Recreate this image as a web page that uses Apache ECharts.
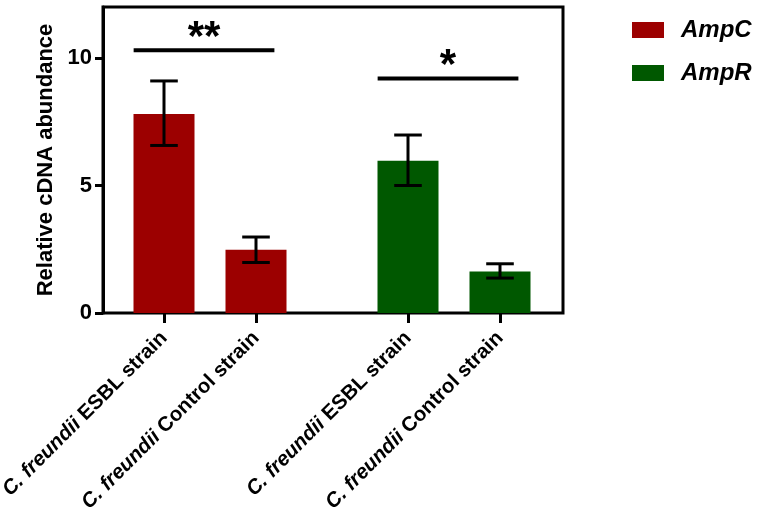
<!DOCTYPE html>
<html>
<head>
<meta charset="utf-8">
<script src="https://cdn.jsdelivr.net/npm/echarts@6/dist/echarts.min.js"></script>
<style>html,body{margin:0;padding:0;background:#fff}#c{width:762px;height:517px}</style>
</head>
<body>
<div id="c"></div>
<script>
// ---- data ----
const categories = ['ESBL strain', 'Control strain'];
const seriesNames = ['AmpC', 'AmpR'];
const ampCMean = [7.8, 2.48];
const ampCLow = [6.57, 1.98];
const ampCHigh = [9.1, 2.98];
const ampRMean = [5.97, 1.63];
const ampRLow = [5.0, 1.37];
const ampRHigh = [6.98, 1.93];
const yTicks = [0, 5, 10];
const yMax = 12;
const sigLabels = ['**', '*'];
const sigLevels = [10.3, 9.2];

const FONT = 'Liberation Sans';
const RED = '#9c0000';
const GREEN = '#005800';

const chart = echarts.init(document.getElementById('c'));

function errRender(params, api) {
  const x = api.value(0), lo = api.value(1), hi = api.value(2);
  const pLo = api.coord([x, lo]), pHi = api.coord([x, hi]);
  const hw = api.size([1, 0])[0] * 0.15;
  const st = { stroke: '#000', lineWidth: 3 };
  return {
    type: 'group',
    children: [
      { type: 'line', shape: { x1: pLo[0], y1: pLo[1], x2: pHi[0], y2: pHi[1] }, style: st },
      { type: 'line', shape: { x1: pLo[0] - hw, y1: pLo[1], x2: pLo[0] + hw, y2: pLo[1] }, style: st },
      { type: 'line', shape: { x1: pHi[0] - hw, y1: pHi[1], x2: pHi[0] + hw, y2: pHi[1] }, style: st }
    ]
  };
}

function sigRender(params, api) {
  const y = api.value(2);
  const p0 = api.coord([api.value(0), y]);
  const p1 = api.coord([api.value(1), y]);
  const bw = api.size([1, 0])[0];
  const xa = p0[0] - 0.33 * bw, xb = p1[0] + 0.2 * bw;
  return {
    type: 'group',
    children: [
      { type: 'line', shape: { x1: xa, y1: p0[1], x2: xb, y2: p0[1] }, style: { stroke: '#000', lineWidth: 4 } },
      { type: 'text', x: (xa + xb) / 2, y: p0[1] - 12,
        style: { text: api.value(3), fill: '#000',
                 font: 'bold 42px "' + FONT + '"', align: 'center', verticalAlign: 'middle' } }
    ]
  };
}

const richLabel = {
  i: { fontFamily: FONT, fontStyle: 'italic', fontWeight: 'bold', fontSize: 20.5, color: '#000' },
  n: { fontFamily: FONT, fontWeight: 'bold', fontSize: 20.5, color: '#000' }
};

function catAxis(gridIndex) {
  return {
    type: 'category', gridIndex: gridIndex, data: categories, boundaryGap: true,
    axisLine: { show: false },
    axisTick: { show: true, alignWithLabel: true, length: 10, lineStyle: { color: '#000', width: 3 } },
    axisLabel: {
      rotate: 45, margin: 22, interval: 0,
      formatter: function (v) { return '{i|C. freundii}{n| ' + v + '}'; },
      rich: richLabel
    },
    splitLine: { show: false }
  };
}
function hiddenY(gridIndex) {
  return { type: 'value', gridIndex: gridIndex, min: 0, max: yMax, show: false, splitLine: { show: false } };
}

const option = {
  backgroundColor: '#fff',
  animation: false,
  legend: {
    orient: 'vertical', left: 632, top: 18, padding: 0,
    itemWidth: 32, itemHeight: 16, itemGap: 19,
    icon: 'rect',
    data: seriesNames,
    textStyle: { fontFamily: FONT, fontStyle: 'italic', fontWeight: 'bold', fontSize: 24, color: '#000', padding: [0, 0, 0, 12] }
  },
  grid: [
    { left: 103, top: 7, width: 460, height: 306, show: true, borderColor: '#000', borderWidth: 3, backgroundColor: 'transparent', outerBoundsMode: 'none', containLabel: false },
    { left: 118, top: 7, width: 184, height: 306, outerBoundsMode: 'none', containLabel: false },
    { left: 362, top: 7, width: 184, height: 306, outerBoundsMode: 'none', containLabel: false }
  ],
  xAxis: [
    { type: 'value', gridIndex: 0, show: false, min: 0, max: 1, splitLine: { show: false } },
    catAxis(1),
    catAxis(2)
  ],
  yAxis: [
    {
      type: 'value', gridIndex: 0, min: 0, max: yMax, interval: 5,
      name: 'Relative cDNA abundance', nameLocation: 'middle', nameGap: 46,
      nameTextStyle: { fontFamily: FONT, fontWeight: 'bold', fontSize: 22, color: '#000' },
      axisLine: { show: true, lineStyle: { color: '#000', width: 3 } },
      axisTick: { show: true, length: 8, lineStyle: { color: '#000', width: 3 }, customValues: yTicks },
      axisLabel: { fontFamily: FONT, fontWeight: 'bold', fontSize: 22, color: '#000', margin: 11, customValues: yTicks },
      splitLine: { show: false }
    },
    hiddenY(1),
    hiddenY(2)
  ],
  series: [
    { name: 'AmpC', type: 'bar', xAxisIndex: 1, yAxisIndex: 1, data: ampCMean, barWidth: 61, itemStyle: { color: RED }, clip: false },
    { name: 'AmpR', type: 'bar', xAxisIndex: 2, yAxisIndex: 2, data: ampRMean, barWidth: 61, itemStyle: { color: GREEN }, clip: false },
    { type: 'custom', xAxisIndex: 1, yAxisIndex: 1, renderItem: errRender, z: 5,
      encode: { x: 0, y: [1, 2] },
      data: categories.map((c, i) => [i, ampCLow[i], ampCHigh[i]]) },
    { type: 'custom', xAxisIndex: 2, yAxisIndex: 2, renderItem: errRender, z: 5,
      encode: { x: 0, y: [1, 2] },
      data: categories.map((c, i) => [i, ampRLow[i], ampRHigh[i]]) },
    { type: 'custom', xAxisIndex: 1, yAxisIndex: 1, renderItem: sigRender, z: 5,
      encode: { x: [0, 1], y: 2 },
      data: [[0, 1, sigLevels[0], sigLabels[0]]] },
    { type: 'custom', xAxisIndex: 2, yAxisIndex: 2, renderItem: sigRender, z: 5,
      encode: { x: [0, 1], y: 2 },
      data: [[0, 1, sigLevels[1], sigLabels[1]]] }
  ]
};
chart.setOption(option);
</script>
</body>
</html>
